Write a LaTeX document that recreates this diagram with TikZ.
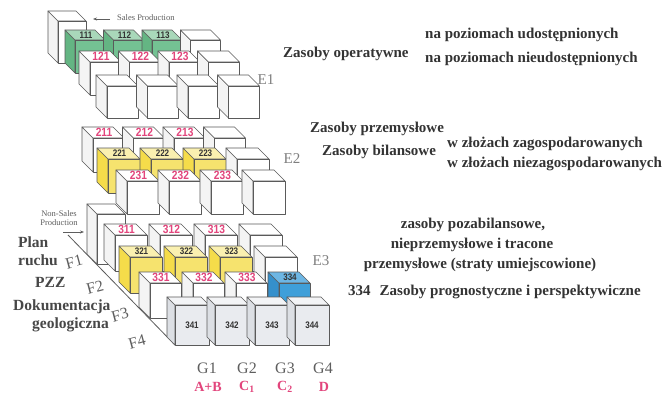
\documentclass[tikz,border=0pt]{standalone}
\usepackage{fontspec}
\setmainfont{Liberation Serif}
\newfontfamily\tnr{Liberation Serif}
\newfontfamily\lblfont[FakeStretch=0.85]{Liberation Sans}
\usetikzlibrary{arrows.meta}
\definecolor{wfront}{HTML}{FFFFFF}
\definecolor{wtop}{HTML}{FFFFFF}
\definecolor{wside}{HTML}{F4F4F4}
\definecolor{gfront}{HTML}{74C293}
\definecolor{gtop}{HTML}{A9D8BA}
\definecolor{gside}{HTML}{64B583}
\definecolor{yfront}{HTML}{F6E36E}
\definecolor{ytop}{HTML}{FAF0B0}
\definecolor{yside}{HTML}{F5DC4A}
\definecolor{bfront}{HTML}{3F9FD9}
\definecolor{btop}{HTML}{6DB6E4}
\definecolor{bside}{HTML}{3590CC}
\definecolor{sfront}{HTML}{E9EBEF}
\definecolor{stop}{HTML}{F3F4F6}
\definecolor{sside}{HTML}{DCDFE4}
\definecolor{edgec}{HTML}{5A5A5A}
\definecolor{pinkc}{HTML}{E2457C}
\definecolor{txt}{HTML}{333333}
\definecolor{graytxt}{HTML}{5E5E5E}
\tikzset{
  cubeedge/.style={draw=edgec, line width=0.7pt, line join=round},
  pinklbl/.style={font=\lblfont\bfseries\fontsize{12}{12}\selectfont, text=pinkc, inner sep=0pt},
  darklbl/.style={font=\lblfont\bfseries\fontsize{9.5}{9.5}\selectfont, text=txt, inner sep=0pt},
  maintxt/.style={font=\tnr\bfseries\fontsize{15}{15}\selectfont, text=txt, inner sep=0pt},
  lefttxt/.style={font=\tnr\bfseries\fontsize{15.5}{15.5}\selectfont, text=txt!90, inner sep=0pt, anchor=base west},
  etxt/.style={font=\tnr\fontsize{15}{15}\selectfont, text=graytxt!80, inner sep=0pt},
  ftxt/.style={font=\tnr\fontsize{16}{16}\selectfont, text=graytxt, inner sep=0pt, rotate=15},
  gtxt/.style={font=\tnr\fontsize{16}{16}\selectfont, text=graytxt, inner sep=0pt},
  classtxt/.style={font=\tnr\bfseries\fontsize{14}{14}\selectfont, text=pinkc, inner sep=0pt},
  smalltxt/.style={font=\tnr\fontsize{8.5}{9}\selectfont, text=graytxt, inner sep=0pt},
  smallarrow/.style={-{Stealth[length=4pt,width=3pt]}, line width=0.7pt, draw=graytxt},
  floorline/.style={draw=edgec, line width=0.8pt}
}
% #1 name, #2 x, #3 y (front face top-left), #4 w, #5 h, #6 depth, #7 colour scheme
\newcommand\drawcube[7]{%
  \filldraw[cubeedge, fill=#7side] ({#2},{#3}) -- ++({-#6},{-#6}) -- ++(0,{#5}) -- ({#2},{#3+#5}) -- cycle;
  \filldraw[cubeedge, fill=#7top] ({#2},{#3}) -- ++({-#6},{-#6}) -- ++({#4},0) -- ({#2+#4},{#3}) -- cycle;
  \filldraw[cubeedge, fill=#7front] ({#2},{#3}) rectangle ++({#4},{#5});
  \coordinate (#1-t) at ({#2+#4/2-#6/2+1},{#3-#6/2});
  \coordinate (#1-f) at ({#2+#4/2},{#3+#5/2});
}
% #1 row name, #2 x0, #3 y0, #4 step, #5 w, #6 h, #7 depth, #8 schemes
\newcommand\cuberow[8]{%
  \foreach \sch [count=\c from 0] in {#8}{%
    \drawcube{#1\c}{#2+\c*#4}{#3}{#5}{#6}{#7}{\sch}%
  }%
}
\begin{document}
\begin{tikzpicture}[x=1pt, y=-1pt]
\fill[white] (0,0) rectangle (669,394);
\useasboundingbox (0,0) rectangle (669,394);

% ---------- E1 ----------
\drawcube{c1b}{58}{21}{28}{42}{10}{w}
\cuberow{c11}{75}{40}{38.5}{30}{33}{10}{g,g,g,w}
\cuberow{c12}{90}{62}{39.5}{31}{33}{11}{w,w,w,w}
\cuberow{c13}{107}{86}{40.5}{31}{32}{11}{w,w,w,w}
\node[darklbl] (l111) at (c110-t) {111};
\node[darklbl] (l112) at (c111-t) {112};
\node[darklbl] (l113) at (c112-t) {113};
\node[pinklbl] (l121) at (c120-t) {121};
\node[pinklbl] (l122) at (c121-t) {122};
\node[pinklbl] (l123) at (c122-t) {123};

% ---------- E2 ----------
\cuberow{c21}{93}{138}{40.5}{31}{34}{11}{w,w,w,w}
\cuberow{c22}{108}{159}{43}{32}{34}{11}{y,y,y,w}
\cuberow{c23}{127}{181}{42}{32}{33}{11}{w,w,w,w}
\node[pinklbl] (l211) at (c210-t) {211};
\node[pinklbl] (l212) at (c211-t) {212};
\node[pinklbl] (l213) at (c212-t) {213};
\node[darklbl] (l221) at (c220-t) {221};
\node[darklbl] (l222) at (c221-t) {222};
\node[darklbl] (l223) at (c222-t) {223};
\node[pinklbl] (l231) at (c230-t) {231};
\node[pinklbl] (l232) at (c231-t) {232};
\node[pinklbl] (l233) at (c232-t) {233};

% ---------- E3 ----------
\coordinate (fl1) at (68,235);
\coordinate (fl2) at (175,345);
\draw[floorline] (fl1) -- (fl2);
\drawcube{c3b}{97}{214}{28}{50}{10}{w}
\cuberow{c31}{115}{235}{45}{32}{36}{11}{w,w,w,w}
\cuberow{c32}{130}{257}{45}{32}{36}{11}{y,y,y,w}
\cuberow{c33}{150}{283}{43}{31}{35}{11}{w,w,w,b}
\cuberow{c34}{175}{305}{40}{34}{40}{8}{s,s,s,s}
\node[pinklbl] (l311) at (c310-t) {311};
\node[pinklbl] (l312) at (c311-t) {312};
\node[pinklbl] (l313) at (c312-t) {313};
\node[darklbl] (l321) at (c320-t) {321};
\node[darklbl] (l322) at (c321-t) {322};
\node[darklbl] (l323) at (c322-t) {323};
\node[pinklbl] (l331) at (c330-t) {331};
\node[pinklbl] (l332) at (c331-t) {332};
\node[pinklbl] (l333) at (c332-t) {333};
\node[darklbl] (l334) at (c333-t) {334};
\node[darklbl] (l341) at (c340-f) {341};
\node[darklbl] (l342) at (c341-f) {342};
\node[darklbl] (l343) at (c342-f) {343};
\node[darklbl] (l344) at (c343-f) {344};

% ---------- production arrows ----------
\node[smalltxt, anchor=west] (sales) at (117,18) {Sales Production};
\coordinate (salesstart) at (110,19);
\coordinate (salesend) at (93,19);
\draw[smallarrow] (salesstart) -- (salesend);
\node[smalltxt, align=center] (nonsales) at (59,218) {Non-Sales\\Production};
\coordinate (nsstart) at (63,232);
\coordinate (nsend) at (84,232);
\draw[smallarrow] (nsstart) -- (nsend);

% ---------- level labels ----------
\node[etxt] (e1) at (266,80) {E1};
\node[etxt] (e2) at (292,159) {E2};
\node[etxt] (e3) at (321,261) {E3};

% ---------- right texts ----------
\node[maintxt, anchor=base west] (zop) at (283,57) {Zasoby operatywne};
\node[maintxt, anchor=base west] (zop1) at (425,38) {na poziomach udostępnionych};
\node[maintxt, anchor=base west] (zop2) at (425,62) {na poziomach nieudostępnionych};
\node[maintxt, anchor=base west] (zprz) at (310,132) {Zasoby przemysłowe};
\node[maintxt, anchor=base west] (zbil) at (322,155) {Zasoby bilansowe};
\node[maintxt, anchor=base west] (zb1) at (447,147) {w złożach zagospodarowanych};
\node[maintxt, anchor=base west] (zb2) at (447,167) {w złożach niezagospodarowanych};
\node[maintxt, anchor=base] (zp1) at (473,228) {zasoby pozabilansowe,};
\node[maintxt, anchor=base] (zp2) at (472,248) {nieprzemysłowe i tracone};
\node[maintxt, anchor=base] (zp3) at (480,268) {przemysłowe (straty umiejscowione)};
\node[maintxt, anchor=base west] (zprog) at (348,295) {334\hspace{0.6em}Zasoby prognostyczne i perspektywiczne};

% ---------- left texts ----------
\node[lefttxt] (plan) at (18,247) {Plan};
\node[lefttxt] (ruchu) at (18,265) {ruchu};
\node[lefttxt] (pzz) at (35,287) {PZZ};
\node[lefttxt] (dok) at (13,310) {Dokumentacja};
\node[lefttxt] (geo) at (32,328) {geologiczna};
\node[ftxt] (f1) at (74,262) {F1};
\node[ftxt] (f2) at (95,287) {F2};
\node[ftxt] (f3) at (120,315) {F3};
\node[ftxt] (f4) at (137,342) {F4};

% ---------- G labels ----------
\node[gtxt] (g1) at (207,368) {G1};
\node[gtxt] (g2) at (247,368) {G2};
\node[gtxt] (g3) at (285,368) {G3};
\node[gtxt] (g4) at (323,368) {G4};
\node[classtxt] (k1) at (208,387) {A+B};
\node[classtxt] (k2) at (247,387) {C\textsubscript{1}};
\node[classtxt] (k3) at (285,387) {C\textsubscript{2}};
\node[classtxt] (k4) at (324,387) {D};
\end{tikzpicture}
\end{document}
